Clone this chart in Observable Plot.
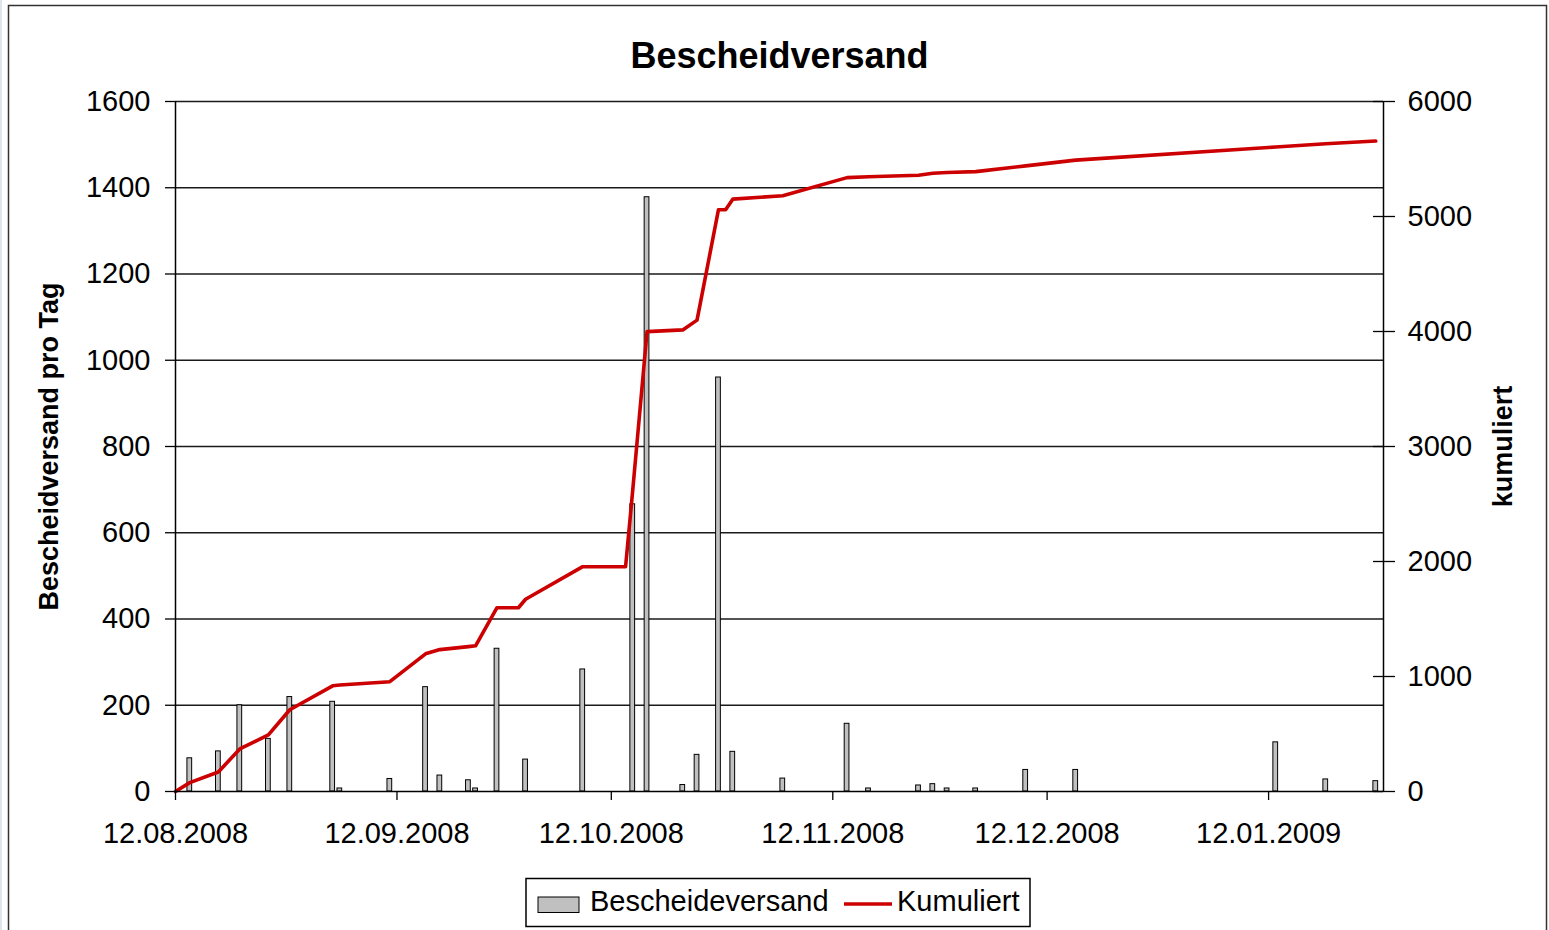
<!DOCTYPE html>
<html><head><meta charset="utf-8">
<script src="https://cdn.jsdelivr.net/npm/d3@7"></script>
<script src="https://cdn.jsdelivr.net/npm/@observablehq/plot@0.6"></script>
<style>
html,body{margin:0;padding:0;background:#fff;}
#chart{position:relative;width:1549px;height:930px;overflow:hidden;}
#chart svg{display:block;}
</style></head><body><div id="chart"></div>
<script>
// ---- data ----
const title = "Bescheidversand";
const yLabelLeft = "Bescheidversand pro Tag";
const yLabelRight = "kumuliert";
const seriesNames = ["Bescheideversand", "Kumuliert"];

const barDates = ["2008-08-14","2008-08-18","2008-08-21","2008-08-25","2008-08-28",
  "2008-09-03","2008-09-04","2008-09-11","2008-09-16","2008-09-18","2008-09-22","2008-09-23",
  "2008-09-26","2008-09-30","2008-10-08","2008-10-15","2008-10-17","2008-10-22","2008-10-24",
  "2008-10-27","2008-10-29","2008-11-05","2008-11-14","2008-11-17","2008-11-24","2008-11-26",
  "2008-11-28","2008-12-02","2008-12-09","2008-12-16","2009-01-13","2009-01-20","2009-01-27"];
const barValues = [77,93,200,122,219,
  208,7,29,242,37,26,7,
  331,74,283,666,1378,15,85,
  960,92,30,157,7,14,17,
  7,7,50,50,114,28,24];
// dates with no shipments that still appear as points of the cumulative line
const zeroDates = ["2008-08-12","2008-09-29","2008-10-14","2008-10-28"];

const xTickDates = ["2008-08-12","2008-09-12","2008-10-12","2008-11-12","2008-12-12","2009-01-12"];
const leftTicks = [0,200,400,600,800,1000,1200,1400,1600];
const rightTicks = [0,1000,2000,3000,4000,5000,6000];
const xStart = "2008-08-12";
const xEnd = "2009-01-28T02:00Z";

// ---- build ----
const parse = d3.utcParse("%Y-%m-%d");
const DAY = 864e5;
const bars = barDates.map((d, i) => ({date: parse(d), value: barValues[i]}));
const pts = [...bars.map(b => ({date: b.date, add: b.value})),
             ...zeroDates.map(d => ({date: parse(d), add: 0}))].sort((a, b) => a.date - b.date);
let s = 0;
const cum = pts.map(p => ({date: p.date, total: (s += p.add)}));
const k = leftTicks[leftTicks.length - 1] / rightTicks[rightTicks.length - 1];
const xDomain = [parse(xStart), new Date(xEnd)];
const FONT = "'Liberation Sans', Arial, Helvetica, sans-serif";

const plot = Plot.plot({
  width: 1549, height: 930,
  marginLeft: 175, marginRight: 166, marginTop: 101, marginBottom: 139,
  style: {fontFamily: FONT, fontSize: "29px", color: "#000", background: "#fff"},
  x: {type: "utc", domain: xDomain},
  y: {domain: [0, 1600]},
  marks: [
    Plot.ruleY(leftTicks.filter(v => v > 0), {stroke: "#1a1a1a", strokeWidth: 1.3}),
    Plot.rectY(bars, {
      x1: d => new Date(+d.date - DAY / 2), x2: d => new Date(+d.date + DAY / 2),
      y: "value", insetLeft: 1.2, insetRight: 1.2,
      fill: "#c0c0c0", stroke: "#000", strokeWidth: 1
    }),
    Plot.line(cum, {x: "date", y: d => d.total * k, stroke: "#cc0000", strokeWidth: 3.6, strokeLinejoin: "round"}),
    Plot.ruleX(xDomain, {stroke: "#000", strokeWidth: 1.5}),
    Plot.ruleY([0], {stroke: "#000", strokeWidth: 1.5}),
    Plot.axisY({anchor: "left", ticks: leftTicks, tickFormat: d => String(d), tickSize: 10, tickPadding: 15, label: null, fontSize: 29, strokeWidth: 1.3}),
    Plot.axisY({anchor: "right", ticks: rightTicks.map(v => v * k), tickFormat: d => String(Math.round(d / k)),
      tickSize: 22, insetRight: 11, tickPadding: 13, label: null, fontSize: 29, strokeWidth: 1.3}),
    Plot.axisX({ticks: xTickDates.map(parse), tickFormat: d3.utcFormat("%d.%m.%Y"), tickSize: 9, tickPadding: 22, label: null, fontSize: 29, strokeWidth: 1.3}),
    Plot.text([title], {text: d => d, frameAnchor: "top", dy: -45, lineAnchor: "middle", textAnchor: "middle", fontSize: 36, fontWeight: "bold"}),
    Plot.text([yLabelLeft], {text: d => d, frameAnchor: "left", dx: -126, rotate: -90, lineAnchor: "middle", textAnchor: "middle", fontSize: 27, fontWeight: "bold"}),
    Plot.text([yLabelRight], {text: d => d, frameAnchor: "right", dx: 120, rotate: -90, lineAnchor: "middle", textAnchor: "middle", fontSize: 27, fontWeight: "bold"})
  ]
});
document.getElementById("chart").appendChild(plot);

// ---- legend and frame ----
const svg = d3.select(plot);
svg.append("rect").attr("x", 0).attr("y", 0).attr("width", 2).attr("height", 930).attr("fill", "#dce6ee");
svg.append("rect").attr("x", 8.5).attr("y", 5.5).attr("width", 1538).attr("height", 940)
  .attr("fill", "none").attr("stroke", "#333").attr("stroke-width", 1.5);
const g = svg.append("g").attr("font-family", FONT).attr("font-size", 29).attr("fill", "#000").attr("text-anchor", "start");
g.append("rect").attr("x", 526).attr("y", 878.5).attr("width", 504).attr("height", 48)
  .attr("fill", "#fff").attr("stroke", "#000").attr("stroke-width", 1.5);
g.append("rect").attr("x", 538).attr("y", 897).attr("width", 41).attr("height", 15.5)
  .attr("fill", "#c0c0c0").attr("stroke", "#000").attr("stroke-width", 1);
g.append("text").attr("x", 590).attr("y", 911).attr("text-anchor", "start").text(seriesNames[0]);
g.append("line").attr("x1", 844).attr("x2", 892).attr("y1", 904).attr("y2", 904)
  .attr("stroke", "#cc0000").attr("stroke-width", 3.6);
g.append("text").attr("x", 897).attr("y", 911).attr("text-anchor", "start").text(seriesNames[1]);
</script></body></html>
